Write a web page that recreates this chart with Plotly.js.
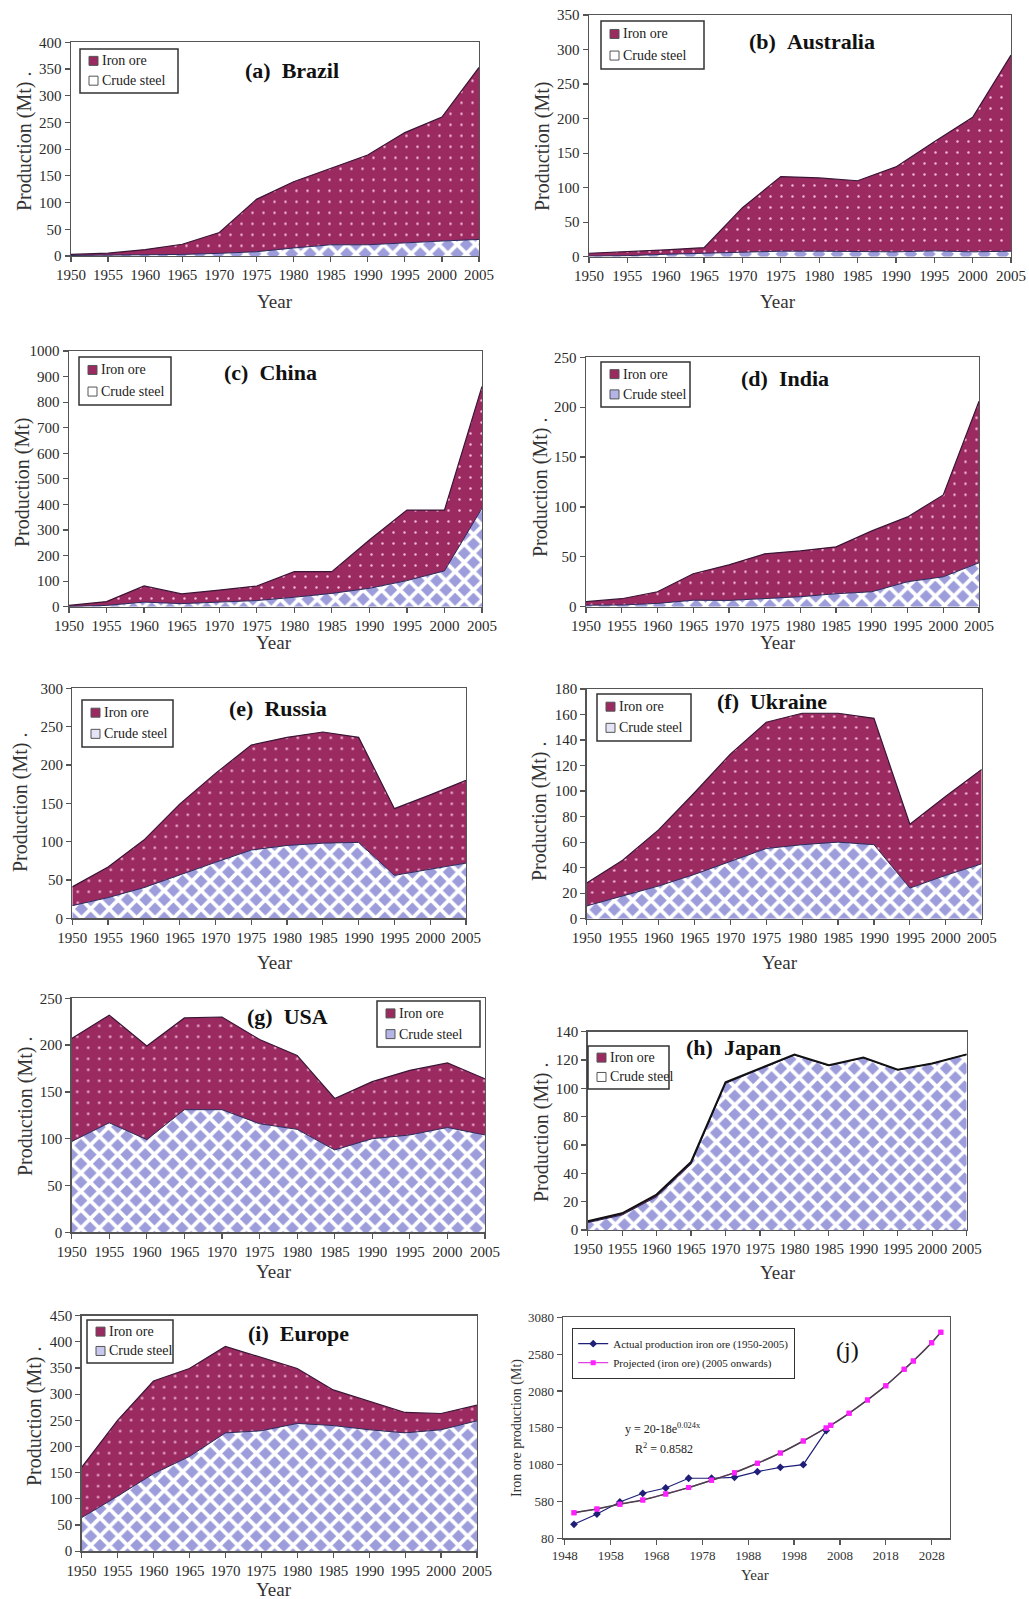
<!DOCTYPE html>
<html><head><meta charset="utf-8">
<script src="https://cdn.plot.ly/plotly-3.0.1.min.js"></script>
<style>body{margin:0;background:#fff}#chart{width:1029px;height:1599px}</style>
</head><body><div id="chart"></div>
<script>
// ---------------- DATA ----------------
const years = [1950,1955,1960,1965,1970,1975,1980,1985,1990,1995,2000,2005];

const brazilOre      = [2, 4, 10, 19, 39, 98, 124, 143, 168, 206, 232, 322];
const brazilSteel    = [1, 1.2, 2, 3, 5, 8, 15, 21, 21, 25, 28, 31];
const australiaOre   = [4, 5.5, 6.5, 8, 64, 108, 106, 103, 123, 158, 195, 284];
const australiaSteel = [1, 1.5, 3.5, 5, 7, 8, 8, 7, 7, 8.5, 7, 8];
const chinaOre       = [4, 15, 63, 38, 47, 57, 100, 85, 189, 276, 238, 476];
const chinaSteel     = [1, 5, 18, 12, 18, 24, 37, 52, 72, 102, 140, 385];
const indiaOre       = [3.5, 6.3, 11.7, 26.5, 35.7, 45.2, 46, 47, 61, 65, 82, 162];
const indiaSteel     = [1.5, 1.7, 3.3, 6.5, 6.3, 7.8, 10, 13, 15, 25, 30, 44];
const russiaOre      = [24.5, 40, 62, 92, 116, 137, 141, 145, 137, 87, 97, 108];
const russiaSteel    = [16.5, 27, 40, 57, 73, 89, 95, 98, 99, 56, 64, 72];
const ukraineOre     = [18, 28, 44, 64, 84, 99, 103, 101, 99, 50, 62, 74];
const ukraineSteel   = [10, 17.8, 25.6, 34.7, 45, 55, 58, 60, 58, 24, 34, 43];
const usaOre         = [110, 115, 100, 98, 99, 90, 79, 55, 61, 69, 69, 60];
const usaSteel       = [97, 117, 99, 131, 131, 116, 110, 88, 100, 104, 112, 104];
const japanOre       = [1, 1.2, 1.5, 1.5, 0.8, 0.5, 0.4, 0.3, 0.2, 0.1, 0, 0];
const japanSteel     = [5.2, 10.6, 23.5, 46.6, 103.5, 113.6, 123.5, 116, 121.6, 113, 117.6, 124];
const europeOre      = [96, 145, 177, 168, 165, 140, 105, 68, 54, 39, 31, 30];
const europeSteel    = [64, 105, 148, 181, 226, 230, 244, 240, 232, 226, 232, 249];

const panelTitles = ['(a)  Brazil','(b)  Australia','(c)  China','(d)  India','(e)  Russia',
                     '(f)  Ukraine','(g)  USA','(h)  Japan','(i)  Europe'];
const yTitles = ['Production (Mt) .','Production (Mt)','Production (Mt)','Production (Mt) .',
                 'Production (Mt) .','Production (Mt) .','Production (Mt) .','Production (Mt) .','Production (Mt) .'];
const yMax  = [400, 350, 1000, 250, 300, 180, 250, 140, 450];
const yStep = [50, 50, 100, 50, 50, 20, 50, 20, 50];
const oreSeries   = [brazilOre, australiaOre, chinaOre, indiaOre, russiaOre, ukraineOre, usaOre, japanOre, europeOre];
const steelSeries = [brazilSteel, australiaSteel, chinaSteel, indiaSteel, russiaSteel, ukraineSteel, usaSteel, japanSteel, europeSteel];
const seriesNames = ['Iron ore', 'Crude steel'];

// Panel (j)
const jYears      = [1950,1955,1960,1965,1970,1975,1980,1985,1990,1995,2000,2005];
const jActual     = [270, 410, 573, 691, 763, 895, 895, 908, 985, 1044, 1080, 1542];
const jProjYears  = [1950,1955,1960,1965,1970,1975,1980,1985,1990,1995,2000,2005,2006,2010,2014,2018,2022,2024,2028,2030];
const jProjected  = [428, 478, 542, 600, 682, 768, 867, 971, 1098, 1238, 1401, 1578, 1614, 1777, 1958, 2152, 2374, 2487, 2736, 2876];
const jLegendNames = ['Actual production iron ore (1950-2005)', 'Projected (iron ore) (2005 onwards)'];

// ---------------- LAYOUT GEOMETRY (pixels) ----------------
const W = 1029, H = 1599;
const boxes = [ // [left, right, top, bottom]
  [71,479,42.3,256],[589,1011,15,256.7],[69,482,351,606.7],[586,979,357.3,606.7],
  [72.3,466,688.3,918.3],[586.7,981.7,689,918.7],[71.7,485,998.3,1232.3],[587.7,966.7,1031.7,1230],
  [81.6,477,1315.6,1551.2],[563,950,1317.3,1538.3]
];
const titlePos  = [[292,70],[812,42],[270,372],[785,379],[278,708],[772,702],[287,1017],[733,1047],[298,1333]];
const yearPos   = [[275,302],[778,302],[274,643],[778,643],[275,962],[780,962],[274,1271],[778,1272],[274,1589],[755,1575]];
const yTitlePos = [[25,142],[542,147],[22,483],[540,488],[20,803],[540,812],[25,1107],[541,1133],[34,1417],[517,1428]];
const legendBox = [ // [left, top, width, height]
  [80,49,98,44],[601,21,103,48],[79,357,92,48],[601,362,89,45],[82,700,91,47],
  [597,694,94,47],[377,1001,103,46],[588,1046,81,43],[87,1320,86,43]
];
const steelIconFill = ['#ffffff','#ffffff','#ffffff','#b4b4e6','#e4e4f6','#e4e4f6','#b4b4e6','#ffffff','#c8c8ee'];

const px = x => x / W;
const py = y => 1 - y / H;
const FONT = 'Liberation Serif';

const oreColor = '#9a2a60';
const steelColor = '#9d9ddc';

const traces = [];
const layout = {
  width: W, height: H, margin: {l:0, r:0, t:0, b:0},
  paper_bgcolor: '#fff', plot_bgcolor: '#fff',
  font: {family: FONT, color: '#222'},
  showlegend: true,
  annotations: [], shapes: []
};

function axisBase() {
  return {
    showline: true, mirror: true, linecolor: '#555', linewidth: 1.4,
    ticks: 'outside', ticklen: 5, tickcolor: '#555', tickwidth: 1.2,
    showgrid: false, zeroline: false,
    tickfont: {family: FONT, size: 15, color: '#2a2a2a'}
  };
}

function rect(x0, y0, x1, y1, fill, lineColor, lw) {
  layout.shapes.push({type: 'rect', xref: 'paper', yref: 'paper',
    x0: px(x0), x1: px(x1), y0: py(y1), y1: py(y0),
    fillcolor: fill, line: {color: lineColor, width: lw}, layer: 'above'});
}
function label(x, y, text, size) {
  layout.annotations.push({xref: 'paper', yref: 'paper', x: px(x), y: py(y),
    xanchor: 'left', yanchor: 'middle', showarrow: false, text: text,
    font: {family: FONT, size: size, color: '#222'}});
}

for (let i = 0; i < 10; i++) {
  const n = i + 1;
  const xa = 'xaxis' + (n === 1 ? '' : n), ya = 'yaxis' + (n === 1 ? '' : n);
  const xr = 'x' + (n === 1 ? '' : n), yr = 'y' + (n === 1 ? '' : n);
  const b = boxes[i];
  layout[xa] = Object.assign(axisBase(), {domain: [px(b[0]), px(b[1])], anchor: yr});
  layout[ya] = Object.assign(axisBase(), {domain: [py(b[3]), py(b[2])], anchor: xr});

  if (i < 9) {
    layout[xa].range = [1950, 2005];
    layout[xa].tickvals = years;
    layout[ya].range = [0, yMax[i]];
    layout[ya].dtick = yStep[i];
    layout[ya].tick0 = 0;

    traces.push({
      type: 'scatter', x: years, y: steelSeries[i], xaxis: xr, yaxis: yr,
      name: seriesNames[1], stackgroup: 'g' + n, mode: 'lines', showlegend: false,
      line: {color: '#2c2a5c', width: 1},
      fillcolor: steelColor,
      fillpattern: {shape: 'x', bgcolor: steelColor, fgcolor: '#ffffff', size: 13, solidity: 0.5},
      hoverinfo: 'skip'
    });
    traces.push({
      type: 'scatter', x: years, y: oreSeries[i], xaxis: xr, yaxis: yr,
      name: seriesNames[0], stackgroup: 'g' + n, mode: 'lines', showlegend: false,
      line: {color: i === 7 ? '#111' : '#3a1636', width: i === 7 ? 2 : 1.2},
      fillcolor: oreColor,
      fillpattern: {shape: '.', bgcolor: oreColor, fgcolor: '#f4b6d6', size: 11, solidity: 0.04},
      hoverinfo: 'skip'
    });

    layout.annotations.push({
      xref: 'paper', yref: 'paper', x: px(titlePos[i][0]), y: py(titlePos[i][1]),
      xanchor: 'center', yanchor: 'middle', showarrow: false,
      text: '<b>' + panelTitles[i].replace(/ /g, '\u00a0') + '</b>',
      font: {family: FONT, size: 22, color: '#111'}
    });
    layout.annotations.push({
      xref: 'paper', yref: 'paper', x: px(yTitlePos[i][0]), y: py(yTitlePos[i][1]),
      xanchor: 'center', yanchor: 'middle', showarrow: false, textangle: -90,
      text: yTitles[i], font: {family: FONT, size: 20, color: '#333'}
    });

    // hand-drawn legend box (small square icons as in the reference)
    const [L, T, w, h] = legendBox[i];
    rect(L, T, L + w, T + h, '#ffffff', '#333', 1.5);
    const r1 = T + h * 0.27, r2 = T + h * 0.72;
    rect(L + 9, r1 - 4.5, L + 18, r1 + 4.5, oreColor, '#555', 1);
    rect(L + 9, r2 - 4.5, L + 18, r2 + 4.5, steelIconFill[i], '#555', 1);
    label(L + 20, r1, seriesNames[0], 14);
    label(L + 20, r2, seriesNames[1], 14);
  } else {
    layout[xa].range = [1947.6, 2032];
    layout[xa].tickvals = [1948,1958,1968,1978,1988,1998,2008,2018,2028];
    layout[xa].tickfont = {family: FONT, size: 13, color: '#333'};
    layout[ya].range = [80, 3080];
    layout[ya].tickvals = [80,580,1080,1580,2080,2580,3080];
    layout[ya].tickfont = {family: FONT, size: 13, color: '#333'};

    traces.push({
      type: 'scatter', x: jYears, y: jActual, xaxis: xr, yaxis: yr, name: jLegendNames[0],
      mode: 'lines+markers', line: {color: '#1f1f78', width: 1.2},
      marker: {symbol: 'diamond', size: 6, color: '#1f1f78'}
    });
    traces.push({
      type: 'scatter', x: jProjYears, y: jProjected, xaxis: xr, yaxis: yr, name: jLegendNames[1],
      mode: 'lines+markers', line: {color: '#e040e0', width: 1.2},
      marker: {symbol: 'square', size: 5, color: '#ff20ff'}
    });
    traces.push({
      type: 'scatter', x: jProjYears, y: jProjected, xaxis: xr, yaxis: yr, showlegend: false,
      mode: 'lines', line: {color: '#444', width: 1.5, shape: 'spline'}
    });
    traces.push({
      type: 'scatter', x: jProjYears, y: jProjected, xaxis: xr, yaxis: yr, showlegend: false,
      mode: 'markers', marker: {symbol: 'square', size: 5, color: '#ff20ff'}
    });

    layout.annotations.push({
      xref: 'paper', yref: 'paper', x: px(847), y: py(1350), xanchor: 'center', yanchor: 'middle',
      showarrow: false, text: '(j)', font: {family: FONT, size: 24, color: '#111'}
    });
    layout.annotations.push({
      xref: 'paper', yref: 'paper', x: px(623), y: py(1428), xanchor: 'left', yanchor: 'middle',
      showarrow: false, text: 'y = 20-18e<sup>0.024x</sup>', font: {family: FONT, size: 12, color: '#222'}
    });
    layout.annotations.push({
      xref: 'paper', yref: 'paper', x: px(633), y: py(1448), xanchor: 'left', yanchor: 'middle',
      showarrow: false, text: 'R<sup>2</sup> = 0.8582', font: {family: FONT, size: 12, color: '#222'}
    });
    layout.annotations.push({
      xref: 'paper', yref: 'paper', x: px(yTitlePos[i][0]), y: py(yTitlePos[i][1]),
      xanchor: 'center', yanchor: 'middle', showarrow: false, textangle: -90,
      text: 'Iron ore production (Mt)', font: {family: FONT, size: 14, color: '#333'}
    });
    layout.legend = {
      x: px(572), y: py(1328), xanchor: 'left', yanchor: 'top',
      bgcolor: '#fff', bordercolor: '#333', borderwidth: 1.2,
      font: {family: FONT, size: 11, color: '#222'}, itemwidth: 30, tracegroupgap: 0,
      traceorder: 'normal'
    };
  }
  layout.annotations.push({
    xref: 'paper', yref: 'paper', x: px(yearPos[i][0]), y: py(yearPos[i][1]),
    xanchor: 'center', yanchor: 'middle', showarrow: false,
    text: 'Year', font: {family: FONT, size: i < 9 ? 19 : 15, color: '#333'}
  });
}

Plotly.newPlot('chart', traces, layout, {staticPlot: true, displayModeBar: false});
</script>
</body></html>
